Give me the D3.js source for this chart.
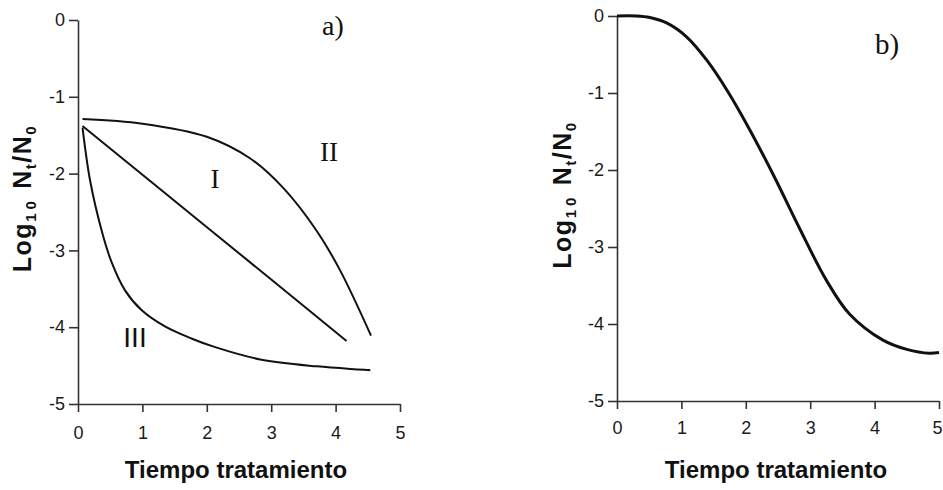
<!DOCTYPE html>
<html>
<head>
<meta charset="utf-8">
<script src="https://cdn.jsdelivr.net/npm/d3@7"></script>
<style>
  body { margin: 0; background: #fff; }
  svg { display: block; }
</style>
</head>
<body>
<svg id="chart" width="943" height="490"></svg>
<script>
// Axis ticks shared by both panels
const xTickValues = [0, 1, 2, 3, 4, 5];
const yTickValues = [0, -1, -2, -3, -4, -5];

// Panel a) survival curves: [treatment time, log10 Nt/N0]
const curveI = [[0.07, -1.38], [2.05, -2.73], [4.17, -4.18]];
const curveII = [[0.07, -1.29], [1.0, -1.35], [2.0, -1.52], [2.67, -1.80],
                 [3.19, -2.19], [3.71, -2.75], [4.07, -3.26], [4.55, -4.11]];
const curveIII = [[0.07, -1.40], [0.19, -2.10], [0.37, -2.75], [0.52, -3.15], [0.73, -3.52],
                  [0.99, -3.78], [1.35, -3.99], [1.77, -4.15], [2.13, -4.26], [2.83, -4.42],
                  [3.71, -4.51], [4.54, -4.56]];

// Panel b) sigmoidal inactivation curve
const curveB = [[0, 0], [0.3, 0], [0.51, -0.02], [0.77, -0.09], [1.08, -0.27], [1.4, -0.58],
                [1.72, -0.98], [2.05, -1.46], [2.45, -2.10], [2.83, -2.75], [3.25, -3.43],
                [3.61, -3.87], [4.13, -4.21], [4.5, -4.33], [4.85, -4.38], [5.0, -4.37]];

// Curve annotations in panel a)
const curveNames = ["I", "II", "III"];

const svg = d3.select("#chart");
const sans = "'Liberation Sans', Arial, sans-serif";
const serif = "'Liberation Serif', 'Times New Roman', serif";

function drawPanel(opts) {
  const g = svg.append("g");
  const x = d3.scaleLinear().domain([0, 5]).range([opts.left, opts.right]);
  const y = d3.scaleLinear().domain([-5, 0]).range([opts.bottom, opts.top]);

  const xAxis = g.append("g")
    .attr("transform", `translate(0,${opts.bottom})`)
    .call(d3.axisBottom(x).tickValues(xTickValues).tickSize(8).tickSizeOuter(0)
      .tickPadding(opts.xPad).tickFormat(d3.format("d")));
  const yAxis = g.append("g")
    .attr("transform", `translate(${opts.left},0)`)
    .call(d3.axisLeft(y).tickValues(yTickValues).tickSize(9).tickSizeOuter(0)
      .tickPadding(4).tickFormat(d => d === 0 ? "0" : "-" + Math.abs(d)));

  [xAxis, yAxis].forEach(ax => {
    ax.select(".domain").attr("stroke", "#333").attr("stroke-width", 1.6);
    ax.selectAll(".tick line").attr("stroke", "#333").attr("stroke-width", 1.6);
    ax.selectAll(".tick text").attr("fill", "#1a1a1a")
      .style("font-family", sans).style("font-size", "18px");
  });
  // the last x label sits right at the page edge; nudge it inside
  xAxis.selectAll(".tick text").filter(d => d === 5).attr("dx", opts.lastDx);

  // x axis title
  g.append("text")
    .attr("x", opts.xTitleX).attr("y", 478)
    .attr("text-anchor", "middle")
    .style("font-family", sans).style("font-size", "24px").style("font-weight", "bold")
    .attr("fill", "#111")
    .text("Tiempo tratamiento");

  // y axis title with subscripts
  const yt = g.append("text")
    .attr("transform", `translate(${opts.yTitleX},${opts.yTitleY}) rotate(-90)`)
    .attr("text-anchor", "middle")
    .style("font-family", sans).style("font-size", "25px").style("font-weight", "bold")
    .style("letter-spacing", "1.5px")
    .attr("fill", "#111");
  yt.append("tspan").text("Log");
  yt.append("tspan").attr("dy", 5).style("font-size", "15px").style("letter-spacing", "4px").text("10");
  yt.append("tspan").attr("dy", -5).text(" N");
  yt.append("tspan").attr("dy", 5).style("font-size", "15px").text("t");
  yt.append("tspan").attr("dy", -5).text("/N");
  yt.append("tspan").attr("dy", 5).style("font-size", "15px").text("0");

  const line = d3.line().x(d => x(d[0])).y(d => y(d[1])).curve(d3.curveCatmullRom.alpha(0.5));
  opts.curves.forEach(c => {
    g.append("path").datum(c)
      .attr("d", line)
      .attr("fill", "none")
      .attr("stroke", "#111")
      .attr("stroke-width", opts.lineWidth)
      .attr("stroke-linecap", "butt")
      .attr("stroke-linejoin", "round");
  });

  // panel letter
  g.append("text")
    .attr("x", opts.tagX).attr("y", opts.tagY)
    .style("font-family", serif).style("font-size", opts.tagSize + "px")
    .attr("fill", "#111")
    .text(opts.tag);

  return { g, x, y };
}

const a = drawPanel({
  left: 78, right: 400, top: 20, bottom: 404, xPad: 14, lastDx: 0,
  xTitleX: 236, yTitleX: 31, yTitleY: 198.5,
  curves: [curveI, curveII, curveIII], lineWidth: 2,
  tag: "a)", tagX: 322, tagY: 35, tagSize: 28
});

const b = drawPanel({
  left: 617, right: 939, top: 16, bottom: 401, xPad: 12, lastDx: -2,
  xTitleX: 776, yTitleX: 571, yTitleY: 195,
  curves: [curveB], lineWidth: 3,
  tag: "b)", tagX: 875, tagY: 54, tagSize: 29
});

// Roman numeral labels placed near their curves in panel a)
const nameSpots = [
  { name: curveNames[0], x: 215, y: 188, font: serif, size: 27 },
  { name: curveNames[1], x: 329, y: 160.5, font: serif, size: 27 },
  { name: curveNames[2], x: 135, y: 347, font: sans, size: 28 }
];
a.g.selectAll("text.curve-name").data(nameSpots).join("text")
  .attr("class", "curve-name")
  .attr("x", d => d.x).attr("y", d => d.y)
  .attr("text-anchor", "middle")
  .style("font-family", d => d.font).style("font-size", d => d.size + "px")
  .attr("fill", "#111")
  .text(d => d.name);
</script>
</body>
</html>
